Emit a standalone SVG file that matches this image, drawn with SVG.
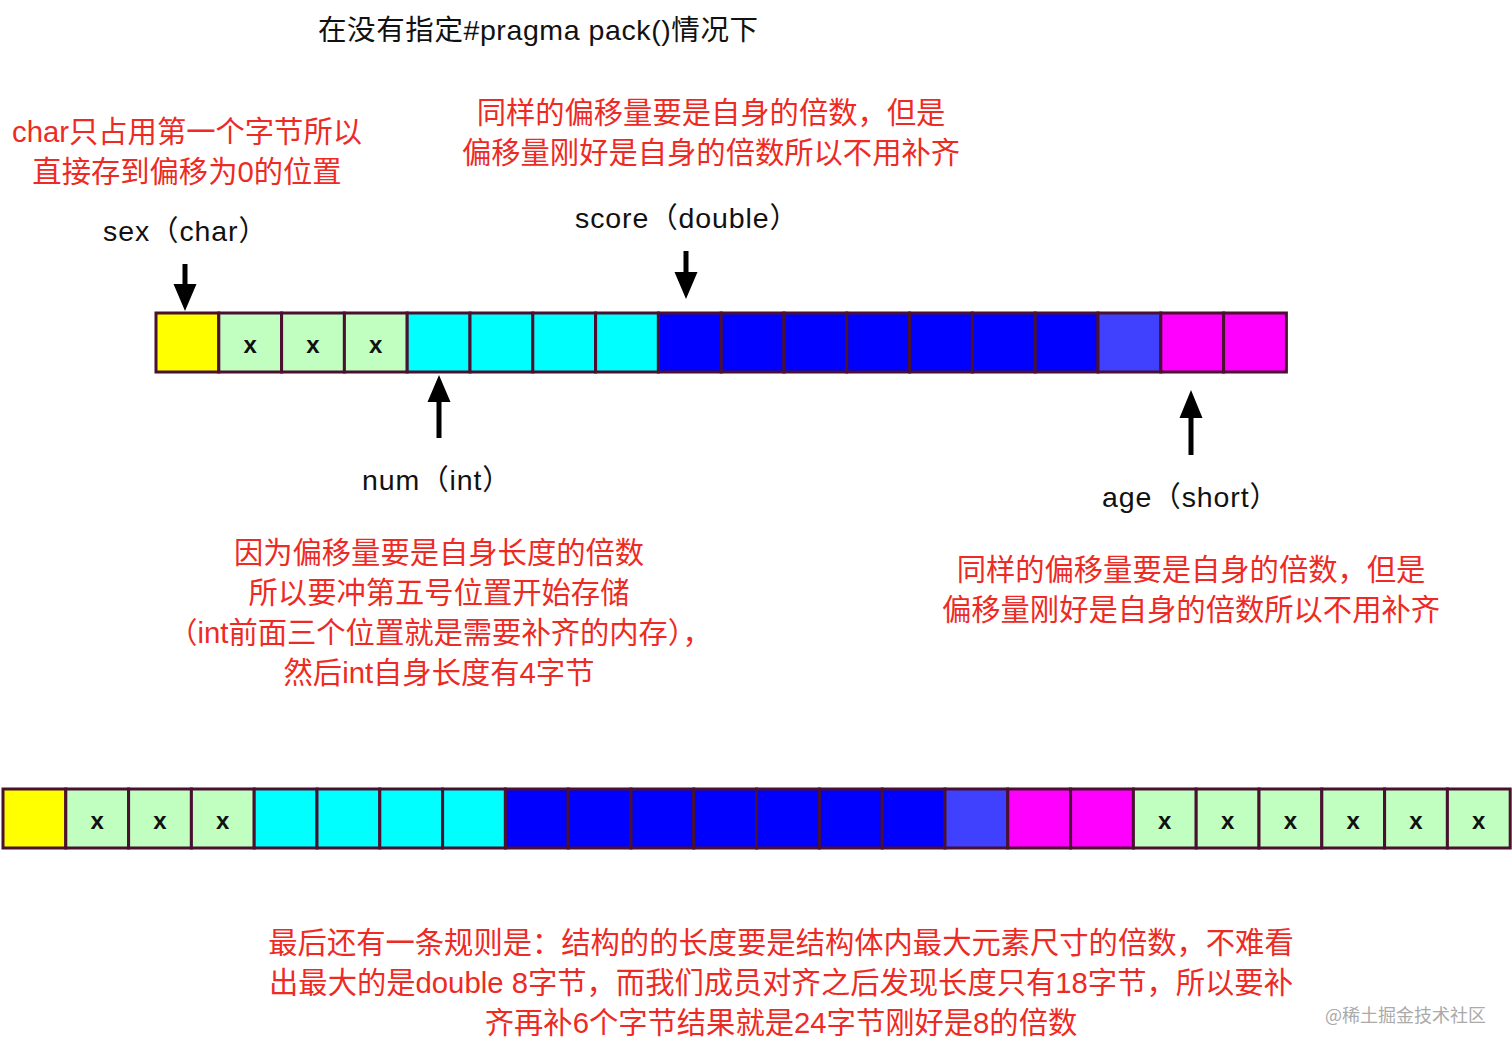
<svg xmlns="http://www.w3.org/2000/svg" width="1512" height="1053" viewBox="0 0 1512 1053">
<style>
.t{font-family:"Liberation Sans","Noto Sans CJK SC",sans-serif;font-size:28.5px;fill:#111}
.l{letter-spacing:0.9px}
.r{font-family:"Liberation Sans","Noto Sans CJK SC",sans-serif;font-size:29.3px;fill:#ee2a24}
.m{text-anchor:middle}
.c{stroke:#4a1030;stroke-width:3}
.y{fill:#ffff00}.g{fill:#c0ffc0}.cy{fill:#00ffff}.b{fill:#0000ff}.lb{fill:#4040ff}.mg{fill:#ff00ff}
.x{font-family:"Liberation Sans",sans-serif;font-size:24px;font-weight:bold;fill:#111;text-anchor:middle}
.arr{fill:#000}
</style>
<rect width="1512" height="1053" fill="#fff"/>
<g id="title"><text class="t" x="318" y="40" textLength="440" lengthAdjust="spacing">在没有指定#pragma pack()情况下</text></g>

<g id="note-char">
<text class="r m" x="187" y="142">char只占用第一个字节所以</text>
<text class="r m" x="187" y="182">直接存到偏移为0的位置</text>
</g>
<g id="note-double">
<text class="r m" x="711" y="123">同样的偏移量要是自身的倍数，但是</text>
<text class="r m" x="711" y="163">偏移量刚好是自身的倍数所以不用补齐</text>
</g>
<g id="label-sex"><text class="t l" x="103" y="241">sex（char）</text></g>
<g id="label-score"><text class="t l" x="575" y="228">score（double）</text></g>
<g id="label-num"><text class="t l" x="362" y="490">num（int）</text></g>
<g id="label-age"><text class="t l" x="1102" y="507">age（short）</text></g>

<g id="note-int">
<text class="r m" x="439" y="563">因为偏移量要是自身长度的倍数</text>
<text class="r m" x="439" y="603">所以要冲第五号位置开始存储</text>
<text class="r m" x="440" y="643">（int前面三个位置就是需要补齐的内存），</text>
<text class="r m" x="439" y="683">然后int自身长度有4字节</text>
</g>
<g id="note-short">
<text class="r m" x="1191" y="580">同样的偏移量要是自身的倍数，但是</text>
<text class="r m" x="1191" y="620">偏移量刚好是自身的倍数所以不用补齐</text>
</g>
<g id="note-final">
<text class="r m" x="781" y="953">最后还有一条规则是：结构的的长度要是结构体内最大元素尺寸的倍数，不难看</text>
<text class="r m" x="781" y="993">出最大的是double 8字节，而我们成员对齐之后发现长度只有18字节，所以要补</text>
<text class="r m" x="781" y="1033">齐再补6个字节结果就是24字节刚好是8的倍数</text>
</g>

<g id="row-top">
<rect class="c y" x="156.0" y="313" width="62.8" height="59"/>
<rect class="c g" x="218.8" y="313" width="62.8" height="59"/>
<rect class="c g" x="281.6" y="313" width="62.8" height="59"/>
<rect class="c g" x="344.4" y="313" width="62.8" height="59"/>
<rect class="c cy" x="407.2" y="313" width="62.8" height="59"/>
<rect class="c cy" x="470.0" y="313" width="62.8" height="59"/>
<rect class="c cy" x="532.8" y="313" width="62.8" height="59"/>
<rect class="c cy" x="595.6" y="313" width="62.8" height="59"/>
<rect class="c b" x="658.4" y="313" width="62.8" height="59"/>
<rect class="c b" x="721.2" y="313" width="62.8" height="59"/>
<rect class="c b" x="784.0" y="313" width="62.8" height="59"/>
<rect class="c b" x="846.8" y="313" width="62.8" height="59"/>
<rect class="c b" x="909.6" y="313" width="62.8" height="59"/>
<rect class="c b" x="972.4" y="313" width="62.8" height="59"/>
<rect class="c b" x="1035.2" y="313" width="62.8" height="59"/>
<rect class="c lb" x="1098.0" y="313" width="62.8" height="59"/>
<rect class="c mg" x="1160.8" y="313" width="62.8" height="59"/>
<rect class="c mg" x="1223.6" y="313" width="62.8" height="59"/>
<text class="x" x="250.2" y="353">x</text>
<text class="x" x="313.0" y="353">x</text>
<text class="x" x="375.8" y="353">x</text>
</g>

<g id="row-bottom">
<rect class="c y" x="3.0" y="789" width="62.8" height="59"/>
<rect class="c g" x="65.8" y="789" width="62.8" height="59"/>
<rect class="c g" x="128.6" y="789" width="62.8" height="59"/>
<rect class="c g" x="191.4" y="789" width="62.8" height="59"/>
<rect class="c cy" x="254.2" y="789" width="62.8" height="59"/>
<rect class="c cy" x="317.0" y="789" width="62.8" height="59"/>
<rect class="c cy" x="379.8" y="789" width="62.8" height="59"/>
<rect class="c cy" x="442.6" y="789" width="62.8" height="59"/>
<rect class="c b" x="505.4" y="789" width="62.8" height="59"/>
<rect class="c b" x="568.2" y="789" width="62.8" height="59"/>
<rect class="c b" x="631.0" y="789" width="62.8" height="59"/>
<rect class="c b" x="693.8" y="789" width="62.8" height="59"/>
<rect class="c b" x="756.6" y="789" width="62.8" height="59"/>
<rect class="c b" x="819.4" y="789" width="62.8" height="59"/>
<rect class="c b" x="882.2" y="789" width="62.8" height="59"/>
<rect class="c lb" x="945.0" y="789" width="62.8" height="59"/>
<rect class="c mg" x="1007.8" y="789" width="62.8" height="59"/>
<rect class="c mg" x="1070.6" y="789" width="62.8" height="59"/>
<rect class="c g" x="1133.4" y="789" width="62.8" height="59"/>
<rect class="c g" x="1196.2" y="789" width="62.8" height="59"/>
<rect class="c g" x="1259.0" y="789" width="62.8" height="59"/>
<rect class="c g" x="1321.8" y="789" width="62.8" height="59"/>
<rect class="c g" x="1384.6" y="789" width="62.8" height="59"/>
<rect class="c g" x="1447.4" y="789" width="62.8" height="59"/>
<text class="x" x="97.2" y="829">x</text>
<text class="x" x="160.0" y="829">x</text>
<text class="x" x="222.8" y="829">x</text>
<text class="x" x="1164.8" y="829">x</text>
<text class="x" x="1227.6" y="829">x</text>
<text class="x" x="1290.4" y="829">x</text>
<text class="x" x="1353.2" y="829">x</text>
<text class="x" x="1416.0" y="829">x</text>
<text class="x" x="1478.8" y="829">x</text>
</g>

<g id="connectors">
<path class="arr" d="M182.5,264 h5 v20 h9 l-11.5,27 l-11.5,-27 h9 z"/>
<path class="arr" d="M683.5,251 h5 v21 h9 l-11.5,27 l-11.5,-27 h9 z"/>
<path class="arr" d="M436.5,438 h5 v-36 h9 l-11.5,-27 l-11.5,27 h9 z"/>
<path class="arr" d="M1188.5,455 h5 v-37 h9 l-11.5,-28 l-11.5,28 h9 z"/>
</g>

<g id="watermark"><text x="1325" y="1022" style="font-family:'Noto Sans CJK SC',sans-serif;font-size:18px;fill:#aaa">@稀土掘金技术社区</text></g>
</svg>
